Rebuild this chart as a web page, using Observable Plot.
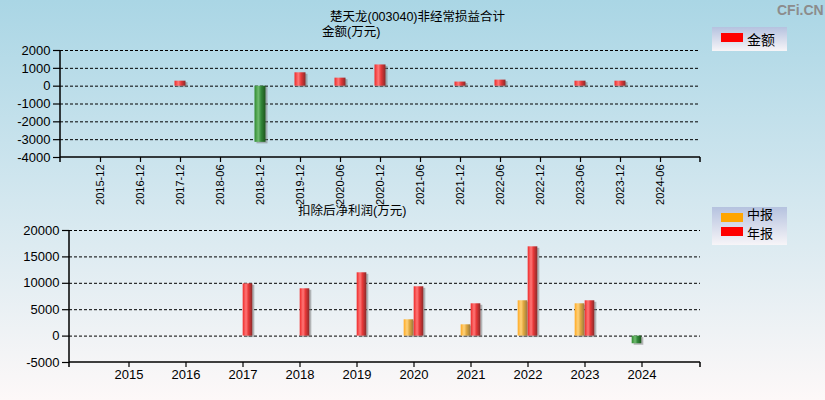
<!DOCTYPE html>
<html><head><meta charset="utf-8">
<script src="https://cdn.jsdelivr.net/npm/d3@7"></script>
<script src="https://cdn.jsdelivr.net/npm/@observablehq/plot@0.6"></script>
<style>
html,body{margin:0;padding:0;}
body{width:825px;height:400px;overflow:hidden;}
#wrap{position:relative;width:825px;height:400px;background:linear-gradient(to bottom,#aad6e5 0%,#d3e7ef 50%,#fdf8f8 100%);font-family:"Liberation Sans","Noto Sans CJK SC",sans-serif;color:#000;}
.abs{position:absolute;white-space:nowrap;line-height:1;}
#c1,#c2{position:absolute;left:0;}
#c1{top:0}#c2{top:200px}
.legend{position:absolute;left:712px;width:75px;background:linear-gradient(to bottom,#b5c2df,#f7f5f8);}
.sw{position:absolute;left:9px;width:22px;height:9px;}
.lt{position:absolute;left:35px;font-size:14px;line-height:14px;font-family:"Noto Sans CJK SC",sans-serif;}
</style></head><body>
<div id="wrap">
<svg width="0" height="0" style="position:absolute;left:0;top:0">
<defs>
<linearGradient id="gRed" x1="0" x2="1" y1="0" y2="0">
<stop offset="0" stop-color="#ee2a2a"/><stop offset="0.35" stop-color="#ff7676"/><stop offset="0.6" stop-color="#e63838"/><stop offset="1" stop-color="#8a2a2a"/>
</linearGradient>
<linearGradient id="gGreen" x1="0" x2="1" y1="0" y2="0">
<stop offset="0" stop-color="#2f8a2f"/><stop offset="0.35" stop-color="#6fbb6f"/><stop offset="0.6" stop-color="#33883a"/><stop offset="1" stop-color="#1d551d"/>
</linearGradient>
<linearGradient id="gOrange" x1="0" x2="1" y1="0" y2="0">
<stop offset="0" stop-color="#ffa922"/><stop offset="0.35" stop-color="#ffd27a"/><stop offset="0.6" stop-color="#e0a840"/><stop offset="1" stop-color="#9a7a3e"/>
</linearGradient>
</defs>
</svg>
<div id="c1"></div>
<div id="c2"></div>
<div class="abs" id="title" style="left:330px;top:11px;font-size:12.5px;">楚天龙(003040)非经常损益合计</div>
<div class="abs" style="left:322px;top:26px;font-size:12.5px;">金额(万元)</div>
<div class="abs" style="left:298px;top:205px;font-size:12.5px;">扣除后净利润(万元)</div>
<div class="abs" style="left:777px;top:3px;font-size:14px;font-weight:bold;color:#8c8c8c;">CFi.CN</div>
<div class="legend" style="top:27px;height:24px;">
  <div class="sw" style="top:6px;background:#ff0000"></div>
  <div class="lt" style="top:5px;">金额</div>
</div>
<div class="legend" style="top:207px;height:38px;">
  <div class="sw" style="top:6px;background:#ffa500"></div>
  <div class="sw" style="top:20px;background:#ff0000"></div>
  <div class="lt" style="top:-3px;font-size:13px;line-height:19px;">中报<br>年报</div>
</div>
</div>
<script>
// ---- data ----
const periods = ["2015-12","2016-12","2017-12","2018-06","2018-12","2019-12","2020-06","2020-12","2021-06","2021-12","2022-06","2022-12","2023-06","2023-12","2024-06"];
const nonRecurring = [null,null,280,null,-3150,750,450,1190,null,230,340,null,280,280,null];
const yTicks1 = [-4000,-3000,-2000,-1000,0,1000,2000];

const years = ["2015","2016","2017","2018","2019","2020","2021","2022","2023","2024"];
const interim = [null,null,null,null,null,3090,2140,6690,6120,-1450];
const annual = [null,null,9900,8960,11990,9340,6120,16910,6690,null];
const yTicks2 = [-5000,0,5000,10000,15000,20000];

// ---- helpers ----
const W = 825;
const FONT = "Liberation Sans, Noto Sans CJK SC, sans-serif";
const plain = d => String(d);
function axisFrame(index, scales, values, dim) {
  const {width, height, marginLeft: ml, marginRight: mr, marginTop: mt, marginBottom: mb} = dim;
  const g = d3.create("svg:g").attr("stroke", "#000").attr("stroke-width", 1.5).attr("fill", "none");
  const x0 = ml, x1 = width - mr, yb = height - mb;
  g.append("line").attr("x1", x0).attr("x2", x0).attr("y1", mt).attr("y2", yb + 5);
  g.append("line").attr("x1", x0).attr("x2", x1).attr("y1", yb).attr("y2", yb);
  g.append("line").attr("x1", x1).attr("x2", x1).attr("y1", yb).attr("y2", yb + 5);
  return g.node();
}

// ---- chart 1 ----
const data1 = periods.map((p, i) => ({p, v: nonRecurring[i]})).filter(d => d.v != null);
const m1 = {l: 60, r: 125};
const step1 = (W - m1.l - m1.r) / (periods.length + 1);
const ins1 = (step1 - 11) / 2;
const shadow = {fill: "#777", fillOpacity: 0.5, dx: 2, dy: 1.5};
const chart1 = Plot.plot({
  width: W, height: 200,
  marginLeft: m1.l, marginRight: m1.r, marginTop: 50, marginBottom: 43,
  style: {background: "transparent", fontFamily: FONT, color: "#000", overflow: "visible"},
  x: {type: "band", domain: periods, paddingInner: 0, paddingOuter: 0.5, axis: null},
  y: {domain: [-4000, 2000], axis: null},
  marks: [
    Plot.gridY(yTicks1.filter(t => t > -4000), {stroke: "#000", strokeOpacity: 1, strokeDasharray: "3,2", strokeWidth: 1}),
    Plot.barY(data1, {x: "p", y: "v", insetLeft: ins1, insetRight: ins1, ...shadow}),
    Plot.barY(data1.filter(d => d.v > 0), {x: "p", y: "v", insetLeft: ins1, insetRight: ins1, fill: "url(#gRed)"}),
    Plot.barY(data1.filter(d => d.v < 0), {x: "p", y: "v", insetLeft: ins1, insetRight: ins1, fill: "url(#gGreen)"}),
    Plot.axisY(yTicks1, {tickSize: 7, tickPadding: 3, fontSize: 13, label: null, tickFormat: plain, strokeWidth: 1.2}),
    Plot.axisX(periods, {tickRotate: -90, tickSize: 5, tickPadding: 2, fontSize: 11, label: null, strokeWidth: 1.2}),
    axisFrame
  ]
});
document.getElementById("c1").appendChild(chart1);

// ---- chart 2 ----
const data2 = years.flatMap((y, i) => [{y, s: "中报", v: interim[i]}, {y, s: "年报", v: annual[i]}]).filter(d => d.v != null);
const m2 = {l: 69, r: 125};
const step2 = (W - m2.l - m2.r) / (years.length + 1);
const bw2 = 10;
const insI = {insetLeft: step2 / 2 - bw2, insetRight: step2 / 2};
const insA = {insetLeft: step2 / 2, insetRight: step2 / 2 - bw2};
const mid = data2.filter(d => d.s === "中报");
const ann = data2.filter(d => d.s === "年报");
const chart2 = Plot.plot({
  width: W, height: 200,
  marginLeft: m2.l, marginRight: m2.r, marginTop: 30, marginBottom: 38,
  style: {background: "transparent", fontFamily: FONT, color: "#000", overflow: "visible"},
  x: {type: "band", domain: years, paddingInner: 0, paddingOuter: 0.5, axis: null},
  y: {domain: [-5000, 20000], axis: null},
  marks: [
    Plot.gridY(yTicks2.filter(t => t > -5000), {stroke: "#000", strokeOpacity: 1, strokeDasharray: "3,2", strokeWidth: 1}),
    Plot.barY(mid, {x: "y", y: "v", ...insI, ...shadow}),
    Plot.barY(ann, {x: "y", y: "v", ...insA, ...shadow}),
    Plot.barY(mid.filter(d => d.v > 0), {x: "y", y: "v", ...insI, fill: "url(#gOrange)"}),
    Plot.barY(mid.filter(d => d.v < 0), {x: "y", y: "v", ...insI, fill: "url(#gGreen)"}),
    Plot.barY(ann.filter(d => d.v > 0), {x: "y", y: "v", ...insA, fill: "url(#gRed)"}),
    Plot.axisY(yTicks2, {tickSize: 7, tickPadding: 3, fontSize: 13, label: null, tickFormat: plain, strokeWidth: 1.2}),
    Plot.axisX(years, {tickSize: 5, tickPadding: 2, fontSize: 13, label: null, strokeWidth: 1.2}),
    axisFrame
  ]
});
document.getElementById("c2").appendChild(chart2);
</script>
</body></html>
